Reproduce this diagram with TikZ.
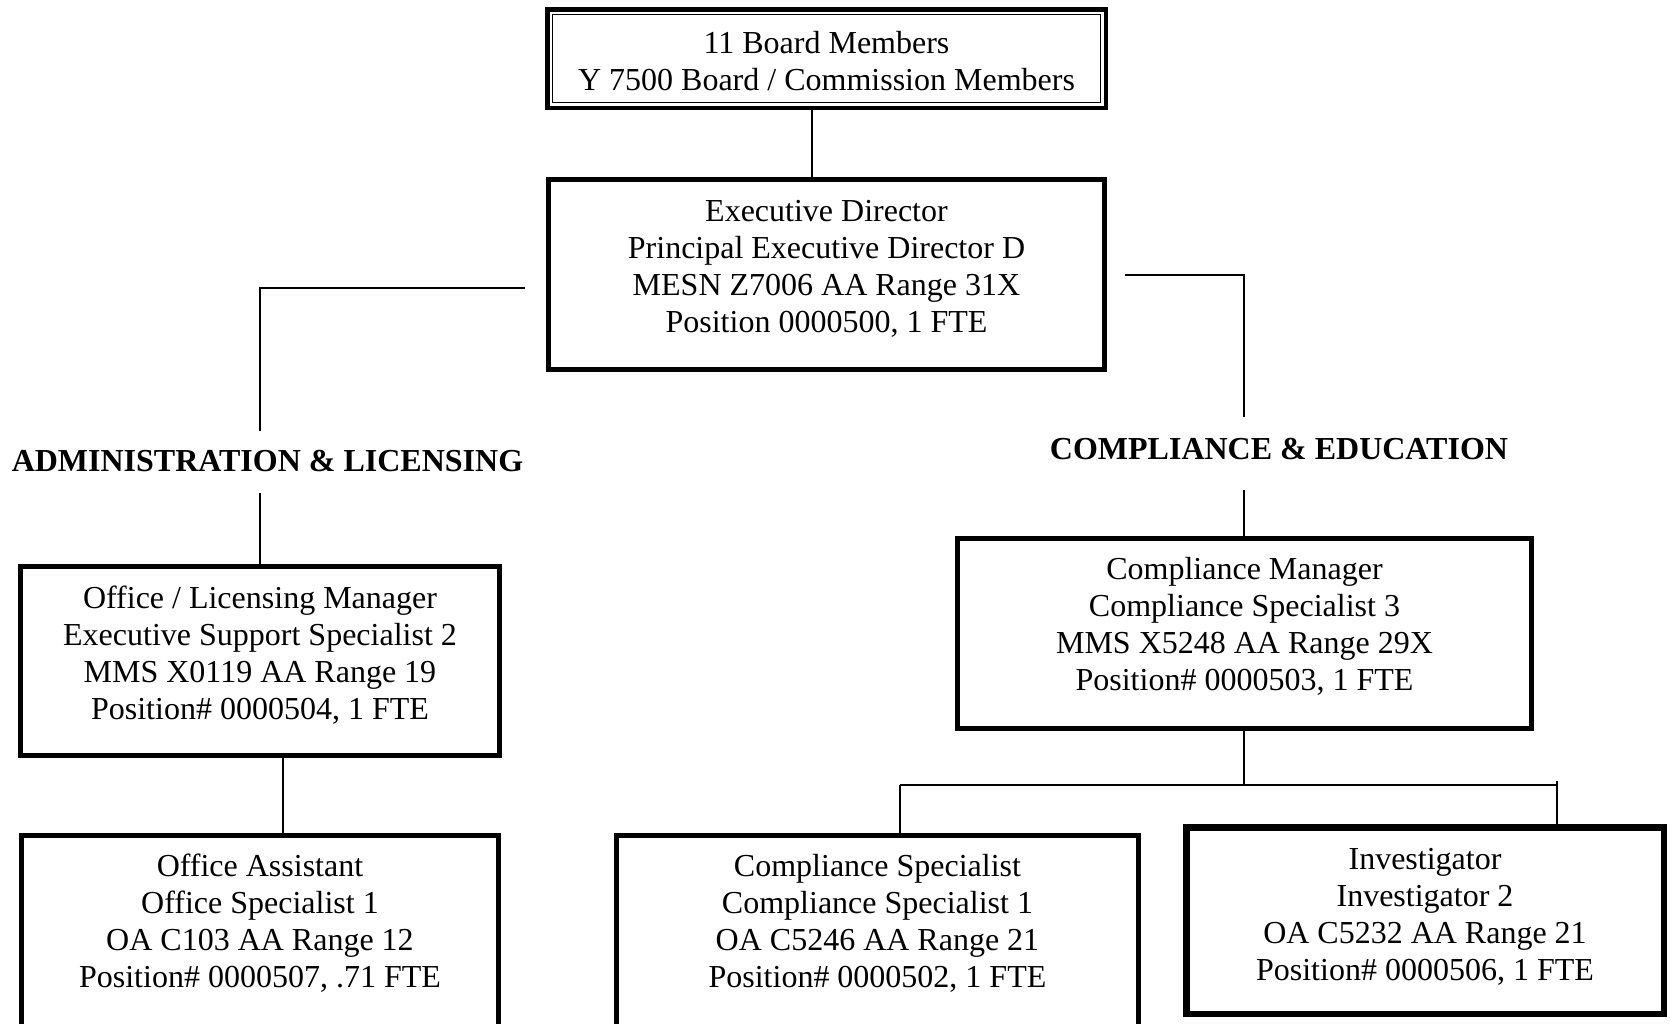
\documentclass[tikz,border=0pt]{standalone}
\usepackage{fontspec}
\setmainfont{Liberation Serif}
\begin{document}
\begin{tikzpicture}[x=0.5pt,y=-0.5pt,
  box/.style={draw, rectangle, line width=2.6pt, inner sep=0pt},
  txt/.style={align=center, inner sep=0pt, font=\fontsize{16}{18.5}\selectfont},
  head/.style={inner sep=0pt, font=\bfseries\fontsize{16}{18.5}\selectfont},
  conn/.style={line width=0.75pt}]
\useasboundingbox[fill=white] (0,0) rectangle (1670,1023);
% boxes
\node[box, line width=2.25pt, minimum width=279.25pt, minimum height=49.25pt] (board) at (826.5,58.5) {};
\node[box, line width=0.6pt, minimum width=274pt, minimum height=44pt] (boardin) at (826.5,58.5) {};
\node[txt] (boardt) at (826.5,61.5) {11 Board Members\\Y 7500 Board / Commission Members};

\node[box, minimum width=278pt, minimum height=95pt] (exec) at (826.5,274.5) {};
\node[txt] (exect) at (826.5,268.5) {Executive Director\\Principal Executive Director D\\MESN Z7006 AA Range 31X\\Position 0000500, 1 FTE};

\node[box, minimum width=239.5pt, minimum height=94.5pt] (olm) at (260,661) {};
\node[txt] (olmt) at (260,655) {Office / Licensing Manager\\Executive Support Specialist 2\\MMS X0119 AA Range 19\\Position\# 0000504, 1 FTE};

\node[box, minimum width=287pt, minimum height=95pt] (cm) at (1244.5,633.5) {};
\node[txt] (cmt) at (1244.5,626.5) {Compliance Manager\\Compliance Specialist 3\\MMS X5248 AA Range 29X\\Position\# 0000503, 1 FTE};

\node[box, minimum width=238.5pt, minimum height=102.5pt] (oa) at (260,938) {};
\node[txt] (oat) at (260,923.5) {Office Assistant\\Office Specialist 1\\OA C103 AA Range 12\\Position\# 0000507, .71 FTE};

\node[box, minimum width=261pt, minimum height=102.5pt] (cs) at (877.5,938) {};
\node[txt] (cst) at (877.5,923.5) {Compliance Specialist\\Compliance Specialist 1\\OA C5246 AA Range 21\\Position\# 0000502, 1 FTE};

\node[box, line width=3.25pt, minimum width=238.75pt, minimum height=93.25pt] (inv) at (1425,920.5) {};
\node[txt] (invt) at (1425,916.5) {Investigator\\Investigator 2\\OA C5232 AA Range 21\\Position\# 0000506, 1 FTE};

% headings
\node[head] (adm) at (267.5,461) {ADMINISTRATION \& LICENSING};
\node[head] (cmp) at (1279,449) {COMPLIANCE \& EDUCATION};

% coordinates
\coordinate (bx) at (812,0);
\coordinate (exL) at (525,288);
\coordinate (admtop) at (260,431);
\coordinate (admbot) at (260,493);
\coordinate (exR) at (1125,275);
\coordinate (cmptop) at (1244,417);
\coordinate (cmpbot) at (1244,490);
\coordinate (ox) at (283,0);
\coordinate (hL) at (900,785);
\coordinate (hM) at (1244,785);
\coordinate (hR) at (1557,785);
\coordinate (tR) at (1557,781);

% connectors
\draw[conn] (bx |- board.south) -- (bx |- exec.north);
\draw[conn] (exL) -| (admtop);
\draw[conn] (admbot) -- (olm.north);
\draw[conn] (exR) -| (cmptop);
\draw[conn] (cmpbot) -- (cmptop |- cm.north);
\draw[conn] (ox |- olm.south) -- (ox |- oa.north);
\draw[conn] (hM |- cm.south) -- (hM);
\draw[conn] (hL) -- (hR);
\draw[conn] (hL) -- (hL |- cs.north);
\draw[conn] (tR) -- (tR |- inv.north);
\end{tikzpicture}
\end{document}
